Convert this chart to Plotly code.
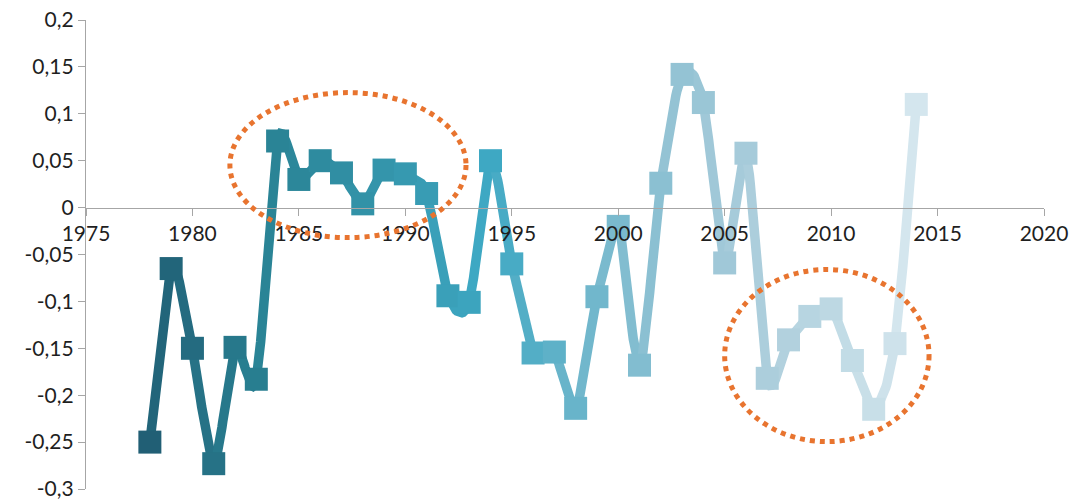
import numpy as np
import plotly.graph_objects as go

# Yearly series
years = list(range(1978, 2015))
values = [
    -0.250, -0.065, -0.150, -0.273, -0.149, -0.183, 0.071, 0.030, 0.050, 0.037,
    0.004, 0.040, 0.036, 0.015, -0.094, -0.101, 0.050, -0.060, -0.155, -0.154,
    -0.214, -0.095, -0.020, -0.168, 0.026, 0.142, 0.112, -0.059, 0.058, -0.182,
    -0.141, -0.116, -0.108, -0.163, -0.215, -0.145, 0.110,
]

# Axis ticks
x_ticks = [1975, 1980, 1985, 1990, 1995, 2000, 2005, 2010, 2015, 2020]
y_ticks = [0.2, 0.15, 0.1, 0.05, 0, -0.05, -0.1, -0.15, -0.2, -0.25, -0.3]
y_tick_labels = ["0,2", "0,15", "0,1", "0,05", "0", "-0,05", "-0,1", "-0,15", "-0,2", "-0,25", "-0,3"]

# Highlighted periods (ellipse bounds: x0, x1, y0, y1)
highlight_a = (1981.76, 1992.85, -0.032, 0.1226)
highlight_b = (2005.0, 2014.6, -0.2495, -0.066)

# Colour ramp from dark teal to pale blue, one colour per year
ramp_stops = [
    (1978, (33, 95, 117)),
    (1984, (42, 132, 150)),
    (1991, (56, 156, 180)),
    (1994, (62, 168, 195)),
    (1998, (104, 180, 202)),
    (2003, (148, 195, 212)),
    (2007, (172, 206, 220)),
    (2012, (200, 223, 232)),
    (2014, (212, 230, 238)),
]


def ramp_colour(year):
    for (y0, c0), (y1, c1) in zip(ramp_stops[:-1], ramp_stops[1:]):
        if y0 <= year <= y1:
            t = (year - y0) / (y1 - y0)
            r, g, b = (round(a + (b_ - a) * t) for a, b_ in zip(c0, c1))
            return f"rgb({r},{g},{b})"
    r, g, b = ramp_stops[-1][1]
    return f"rgb({r},{g},{b})"


colours = [ramp_colour(y) for y in years]


def smooth_segment(i, n=24, k=7.0):
    """Bezier path between point i and i+1, tangents from neighbouring points."""
    xs, ys = np.array(years, float), np.array(values, float)
    p0 = np.array([xs[max(i - 1, 0)], ys[max(i - 1, 0)]])
    p1 = np.array([xs[i], ys[i]])
    p2 = np.array([xs[i + 1], ys[i + 1]])
    p3 = np.array([xs[min(i + 2, len(xs) - 1)], ys[min(i + 2, len(xs) - 1)]])
    c1 = p1 + (p2 - p0) / k
    c2 = p2 - (p3 - p1) / k
    t = np.linspace(0, 1, n)[:, None]
    pts = ((1 - t) ** 3) * p1 + 3 * ((1 - t) ** 2) * t * c1 + 3 * (1 - t) * t ** 2 * c2 + t ** 3 * p2
    return pts[:, 0], pts[:, 1]


fig = go.Figure()

for i in range(len(years) - 1):
    sx, sy = smooth_segment(i)
    fig.add_trace(go.Scatter(
        x=sx, y=sy, mode="lines",
        line=dict(color=colours[i + 1], width=9.5),
        hoverinfo="skip", showlegend=False,
    ))

fig.add_trace(go.Scatter(
    x=years, y=values, mode="markers",
    marker=dict(symbol="square", size=23, color=colours, line=dict(width=0)),
    showlegend=False,
))

for x0, x1, y0, y1 in (highlight_a, highlight_b):
    fig.add_shape(
        type="circle", xref="x", yref="y", x0=x0, x1=x1, y0=y0, y1=y1,
        line=dict(color="#E8742F", width=5, dash="dot"),
    )

zero_pos = (0 - (-0.3)) / (0.2 - (-0.3))

fig.update_layout(
    width=1073, height=501,
    margin=dict(l=86, r=29, t=20, b=12),
    paper_bgcolor="white", plot_bgcolor="white",
    font=dict(family="Lato", size=21, color="#1f1f1f"),
    xaxis=dict(
        range=[1975, 2020], tickvals=x_ticks, ticktext=[str(v) for v in x_ticks],
        showgrid=False, zeroline=False, showline=True, linecolor="#A6A6A6", linewidth=1.3,
        ticks="outside", ticklen=7, tickcolor="#A6A6A6", tickwidth=1.3,
        anchor="free", position=zero_pos, fixedrange=True, automargin=False,
    ),
    yaxis=dict(
        range=[-0.3, 0.2], tickvals=y_ticks, ticktext=y_tick_labels,
        showgrid=False, zeroline=False, showline=True, linecolor="#A6A6A6", linewidth=1.3,
        ticks="outside", ticklen=7, tickcolor="#A6A6A6", tickwidth=1.3,
        fixedrange=True, automargin=False,
    ),
)

fig.write_html("out.html")
